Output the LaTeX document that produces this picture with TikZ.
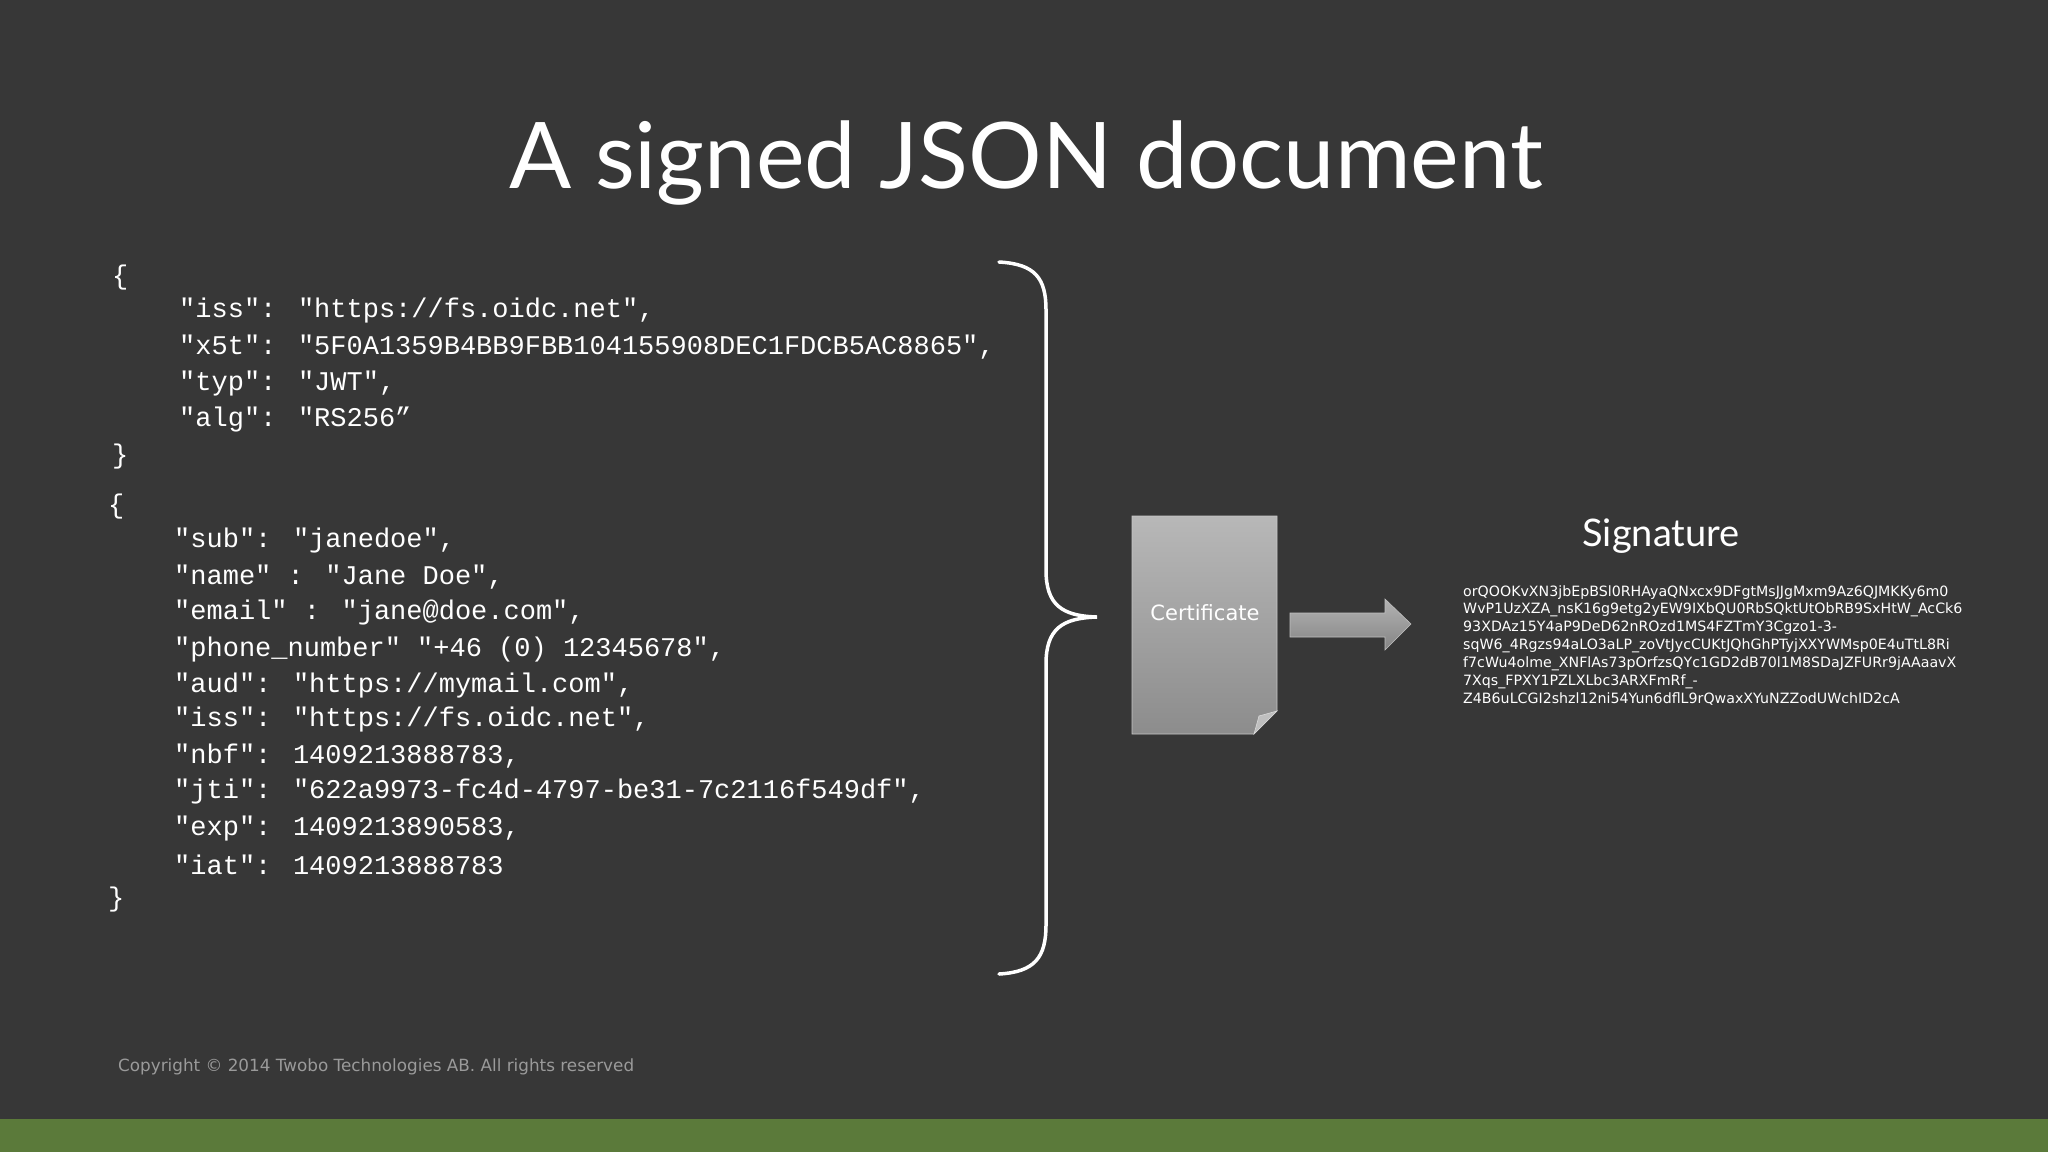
\documentclass[tikz,border=0pt]{standalone}
\usepackage{fontspec}
\setmainfont{Open Sans}
\newfontfamily\titlefont{Lato}
\newfontfamily\codefont{Liberation Mono}
\newfontfamily\sigfont{DejaVu Sans}
\definecolor{bg}{HTML}{373737}
\definecolor{barg}{HTML}{5B7A3A}
\definecolor{copyc}{HTML}{9A9A9A}
\begin{document}
\begin{tikzpicture}[x=1pt,y=-1pt,
  code/.style={anchor=west,text=white,inner sep=0,font=\codefont\fontsize{27}{30}\selectfont},
  sig/.style={anchor=north west,text=white,inner sep=0,align=left,font=\sigfont\fontsize{14.2}{17.9}\selectfont}]
\fill[bg] (0,0) rectangle (2048,1152);
\useasboundingbox (0,0) rectangle (2048,1152);
\fill[barg] (0,1119) rectangle (2048,1152);
\node[text=white,font=\titlefont\fontsize{92}{100}\selectfont] (title) at (1026,163) {A signed JSON document};
% code block 1
\node[code] (b1) at (112,278) {\{};
\node[code] (l1) at (179,311) {"iss": "https://fs.oidc.net",};
\node[code] (l2) at (179,347) {"x5t": "5F0A1359B4BB9FBB104155908DEC1FDCB5AC8865",};
\node[code] (l3) at (179,384) {"typ": "JWT",};
\node[code] (l4) at (179,420) {"alg": "RS256”};
\node[code] (b2) at (112,457) {\}};
% code block 2
\node[code] (c0) at (108,507) {\{};
\node[code] (c1) at (174,541) {"sub": "janedoe",};
\node[code] (c2) at (174,577) {"name" : "Jane Doe",};
\node[code] (c3) at (174,613) {"email" : "jane@doe.com",};
\node[code] (c4) at (174,650) {"phone\_number" "+46 (0) 12345678",};
\node[code] (c5) at (174,686) {"aud": "https://mymail.com",};
\node[code] (c6) at (174,720) {"iss": "https://fs.oidc.net",};
\node[code] (c7) at (174,756) {"nbf": 1409213888783,};
\node[code] (c8) at (174,792) {"jti": "622a9973-fc4d-4797-be31-7c2116f549df",};
\node[code] (c9) at (174,829) {"exp": 1409213890583,};
\node[code] (c10) at (174,865) {"iat": 1409213888783};
\node[code] (c11) at (108,900) {\}};
% brace
\draw[white,line width=3.5pt,line cap=round]
  (999,262) .. controls (1035,264) and (1046,278) .. (1046,310)
  -- (1046,570) .. controls (1046,605) and (1062,616) .. (1097,617)
  .. controls (1062,618) and (1046,629) .. (1046,664)
  -- (1046,925) .. controls (1046,957) and (1035,972) .. (999,974);
% certificate
\shade[top color=black!28!white, bottom color=black!45!white, draw=black!22!white, line width=0.6pt]
  (1132,516) -- (1277,516) -- (1277,711) -- (1254,734) -- (1132,734) -- cycle;
\fill[black!25!white,draw=black!15!white,line width=0.6pt] (1277,711) -- (1259,716) -- (1254,734) -- cycle;
\node[text=white,font=\sigfont\fontsize{21}{24}\selectfont] (cert) at (1205,613) {Certificate};
% arrow
\shade[top color=black!30!white,bottom color=black!48!white,draw=black!25!white,line width=0.6pt]
  (1290,613) -- (1385,613) -- (1385,599) -- (1411,624) -- (1385,650) -- (1385,637) -- (1290,637) -- cycle;
\node[text=white,font=\titlefont\fontsize{38}{42}\selectfont] (sigtitle) at (1661,536) {Signature};
\node[sig] (sigtext) at (1463,585) {orQOOKvXN3jbEpBSl0RHAyaQNxcx9DFgtMsJJgMxm9Az6QJMKKy6m0\\
WvP1UzXZA\_nsK16g9etg2yEW9IXbQU0RbSQktUtObRB9SxHtW\_AcCk6\\
93XDAz15Y4aP9DeD62nROzd1MS4FZTmY3Cgzo1-3-\\
sqW6\_4Rgzs94aLO3aLP\_zoVtJycCUKtJQhGhPTyjXXYWMsp0E4uTtL8Ri\\
f7cWu4olme\_XNFlAs73pOrfzsQYc1GD2dB70l1M8SDaJZFURr9jAAaavX\\
7Xqs\_FPXY1PZLXLbc3ARXFmRf\_-\\
Z4B6uLCGI2shzl12ni54Yun6dflL9rQwaxXYuNZZodUWchID2cA};
\node[anchor=west,text=copyc,inner sep=0,font=\sigfont\fontsize{16.8}{20}\selectfont] (copy) at (118,1067) {Copyright © 2014 Twobo Technologies AB. All rights reserved};
\end{tikzpicture}
\end{document}
